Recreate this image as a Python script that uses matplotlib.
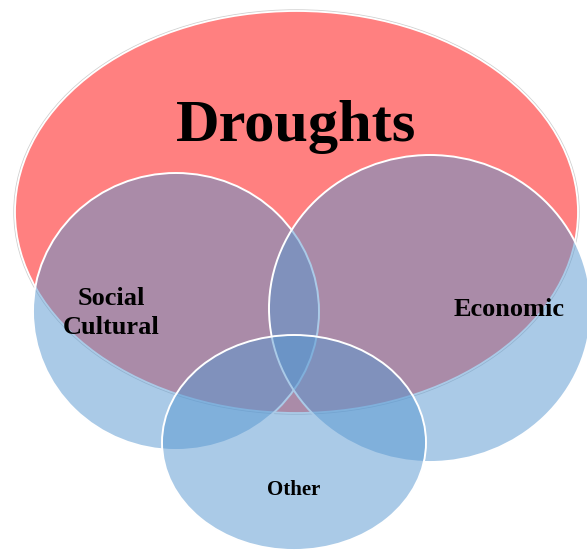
import matplotlib.pyplot as plt
from matplotlib.patches import Ellipse

# ellipses in pixel units of the original picture (x, y from top-left)
names = ["Droughts", "Social\nCultural", "Economic", "Other"]
centers_x = [296.5, 176, 430, 294]
centers_y = [212, 311.5, 308.5, 442.5]
widths = [563, 286, 322, 264]
heights = [402, 277, 307, 215]

# where the labels sit
label_x = [296, 111, 509, 294]
label_y = [127, 313, 309, 490]
label_size = [43.5, 19, 19, 15]

red = "#ff8080"
blue = (87 / 255, 151 / 255, 209 / 255, 0.5)

fig = plt.figure(figsize=(5.87, 5.52), dpi=100)
ax = fig.add_axes([0, 0, 1, 1])
ax.set_xlim(0, 587)
ax.set_ylim(552, 0)
ax.axis("off")

# big red one, with a faint grey rim outside the white edge
ax.add_patch(Ellipse((centers_x[0], centers_y[0]), widths[0] + 2, heights[0] + 2,
                     facecolor="none", edgecolor="#d0d0d0", lw=1.0))
ax.add_patch(Ellipse((centers_x[0], centers_y[0]), widths[0], heights[0],
                     facecolor=red, edgecolor="white", lw=1.3))

# the three see-through blue ones
for i in range(1, 4):
    ax.add_patch(Ellipse((centers_x[i], centers_y[i]), widths[i], heights[i],
                         facecolor=blue, edgecolor="white", lw=1.4))

for i in range(4):
    ax.text(label_x[i], label_y[i], names[i], ha="center", va="center",
            fontsize=label_size[i], fontweight="bold", family="Liberation Serif",
            linespacing=1.3, color="black")

fig.savefig("out.png", dpi=100)
